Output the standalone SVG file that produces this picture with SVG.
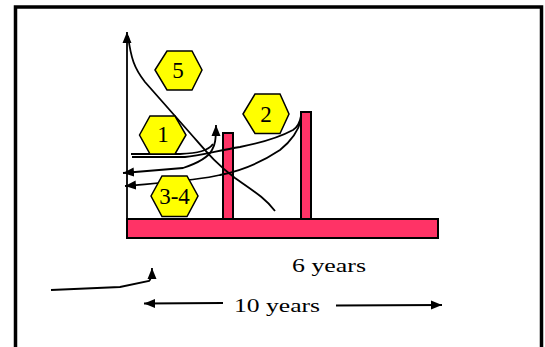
<svg xmlns="http://www.w3.org/2000/svg" width="545" height="347" viewBox="0 0 545 347">
<style>
.hex{fill:#FFFF00;stroke:#000;stroke-width:1.5}
.num{font-family:"Liberation Serif",serif;font-size:23px;fill:#000;text-anchor:middle}
.bar{fill:#FF3366;stroke:#000;stroke-width:2}
.ln{fill:none;stroke:#000;stroke-width:1.8}
.lbl{font-family:"Liberation Serif",serif;font-size:18px;fill:#000}
</style>
<defs>
<marker id="ah" markerUnits="userSpaceOnUse" markerWidth="11" markerHeight="10" refX="11" refY="4.5" orient="auto-start-reverse" viewBox="0 0 11 9">
<path d="M0,0 L11,4.5 L0,9 z" fill="#000"/>
</marker>
</defs>
<rect x="0" y="0" width="545" height="347" fill="#fff"/>
<rect id="frame" x="15.5" y="7" width="526" height="360" fill="#fff" stroke="#000" stroke-width="3.5"/>
<g id="bars">
<rect id="base" class="bar" x="127" y="219" width="311" height="19"/>
<rect id="post1" class="bar" x="223" y="133" width="10" height="86"/>
<rect id="post2" class="bar" x="301" y="112" width="10" height="107"/>
</g>
<g id="connectors">
<path class="ln" d="M127,219 V32" marker-end="url(#ah)"/>
<path class="ln" d="M128,36 C131,58 134,68 145,82 L190,133 C205,150 215,163 235,178 C255,192 265,198 275,211"/>
<path class="ln" d="M123,173 L183,168 C198,163 208,158 212,150 C215,145 216,140 216,125" marker-start="url(#ah)" marker-end="url(#ah)"/>
<path class="ln" d="M131,154 L180,154 C198,153 208,151 213,144"/>
<path class="ln" d="M132,157 L185,157 C200,156 220,150 240,147 C260,143 280,137 293,130 C298,127 300,122 301,116"/>
<path class="ln" d="M301,120 C298,132 290,142 280,150 C265,160 245,170 220,175 C200,180 170,182 125,186" marker-end="url(#ah)"/>
<path class="ln" d="M51,290 L120,287 L149,281 C151,279 152,276 152,268" marker-end="url(#ah)"/>
<path class="ln" d="M223,303 L144,303.5" marker-end="url(#ah)"/>
<path class="ln" d="M336,305.5 L442,305" marker-end="url(#ah)"/>
</g>
<g id="hex5">
<polygon class="hex" points="155,70 167,51 192,51 202,70 192,90 167,90"/>
<text class="num" x="178" y="78">5</text>
</g>
<g id="hex2">
<polygon class="hex" points="243,114 255,94 280,94 289,114 280,133.5 255,133.5"/>
<text class="num" x="266" y="121.5">2</text>
</g>
<g id="hex1">
<polygon class="hex" points="139.5,135 150,116 175,116 186,135 175,154 150,154"/>
<text class="num" x="163" y="142">1</text>
</g>
<g id="hex34">
<polygon class="hex" points="151,196 162,176 187,176 198,196 187,216.5 162,216.5"/>
<text class="num" x="174.5" y="203.5">3-4</text>
</g>
<g id="labels">
<text class="lbl" x="292" y="272" textLength="74" lengthAdjust="spacingAndGlyphs">6 years</text>
<text class="lbl" x="234" y="312" textLength="86" lengthAdjust="spacingAndGlyphs">10 years</text>
</g>
</svg>
